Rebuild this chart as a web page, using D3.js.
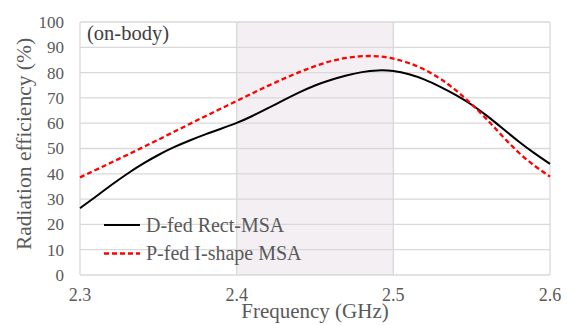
<!DOCTYPE html>
<html lang="en">
<head>
    <meta charset="UTF-8">
    <script src="https://d3js.org/d3.v7.min.js"></script>
    <title>Radiation efficiency</title>
    <style>
        body { margin: 0; background: #fff; }
        svg { display: block; }
    </style>
</head>
<body>
    <svg id="chart" width="567" height="325"></svg>
    <script>
        // frequencies (GHz)
        const freqs = [2.30, 2.31, 2.32, 2.33, 2.34, 2.35, 2.36, 2.37, 2.38, 2.39, 2.40,
                       2.41, 2.42, 2.43, 2.44, 2.45, 2.46, 2.47, 2.48, 2.49, 2.50,
                       2.51, 2.52, 2.53, 2.54, 2.55, 2.56, 2.57, 2.58, 2.59, 2.60];
        // D-fed Rect-MSA
        const rectMsa = [26.4, 30.9, 35.6, 40.0, 44.0, 47.5, 50.6, 53.2, 55.6, 57.8, 60.0,
                         62.8, 65.9, 69.1, 72.2, 75.0, 77.1, 78.9, 80.3, 81.0, 80.8,
                         79.5, 77.4, 74.4, 71.2, 67.4, 62.9, 57.8, 52.7, 48.1, 43.9];
        // P-fed I-shape MSA
        const ishapeMsa = [38.6, 41.5, 44.5, 47.4, 50.4, 53.5, 56.6, 59.7, 62.8, 65.8, 68.8,
                           71.8, 74.8, 77.6, 80.2, 82.6, 84.6, 85.9, 86.6, 86.6, 85.6,
                           83.9, 81.3, 77.7, 73.1, 67.6, 61.4, 54.6, 48.2, 43.1, 38.9];
        const xTicks = [2.3, 2.4, 2.5, 2.6];
        const yTicks = [0, 10, 20, 30, 40, 50, 60, 70, 80, 90, 100];
        const band = [2.4, 2.5];
        const seriesNames = ["D-fed Rect-MSA", "P-fed I-shape MSA"];

        const svg = d3.select("#chart");
        const serif = '"Liberation Serif"';
        const textColor = "#595959";
        const gridColor = "#d9d9d9";

        const x = d3.scaleLinear().domain([2.3, 2.6]).range([80, 550]);
        const y = d3.scaleLinear().domain([0, 100]).range([275, 22]);

        // shaded band
        svg.append("rect")
            .attr("x", x(band[0]))
            .attr("y", y(100))
            .attr("width", x(band[1]) - x(band[0]))
            .attr("height", y(0) - y(100))
            .attr("fill", "#f3eff3");

        // horizontal gridlines
        svg.append("g")
            .selectAll("line")
            .data(yTicks)
            .join("line")
            .attr("x1", x(2.3)).attr("x2", x(2.6))
            .attr("y1", d => y(d)).attr("y2", d => y(d))
            .attr("stroke", gridColor)
            .attr("stroke-width", 1.3);

        // vertical gridlines
        svg.append("g")
            .selectAll("line")
            .data(xTicks)
            .join("line")
            .attr("x1", d => x(d)).attr("x2", d => x(d))
            .attr("y1", y(0)).attr("y2", y(100))
            .attr("stroke", gridColor)
            .attr("stroke-width", 1.3);

        // y tick labels
        svg.append("g")
            .selectAll("text")
            .data(yTicks)
            .join("text")
            .attr("x", 64)
            .attr("y", d => y(d))
            .attr("dy", "0.35em")
            .attr("text-anchor", "end")
            .style("font-family", serif)
            .attr("font-size", 17)
            .attr("fill", textColor)
            .text(d => d);

        // x tick labels
        svg.append("g")
            .selectAll("text")
            .data(xTicks)
            .join("text")
            .attr("x", d => x(d))
            .attr("y", 301)
            .attr("text-anchor", "middle")
            .style("font-family", serif)
            .attr("font-size", 18)
            .attr("fill", textColor)
            .text(d => d.toFixed(1));

        // axis titles
        svg.append("text")
            .attr("x", 315)
            .attr("y", 318)
            .attr("text-anchor", "middle")
            .style("font-family", serif)
            .attr("font-size", 21)
            .attr("fill", textColor)
            .text("Frequency (GHz)");

        svg.append("text")
            .attr("transform", "translate(31,144) rotate(-90)")
            .attr("text-anchor", "middle")
            .style("font-family", serif)
            .attr("font-size", 21.5)
            .attr("fill", textColor)
            .text("Radiation efficiency (%)");

        // annotation
        svg.append("text")
            .attr("x", 87)
            .attr("y", 40)
            .style("font-family", serif)
            .attr("font-size", 20.5)
            .attr("fill", "#404040")
            .text("(on-body)");

        // curves
        const line = d3.line()
            .x((d, i) => x(freqs[i]))
            .y(d => y(d))
            .curve(d3.curveBasis);

        svg.append("path")
            .datum(rectMsa)
            .attr("d", line)
            .attr("fill", "none")
            .attr("stroke", "#000")
            .attr("stroke-width", 2);

        svg.append("path")
            .datum(ishapeMsa)
            .attr("d", line)
            .attr("fill", "none")
            .attr("stroke", "#ff0000")
            .attr("stroke-width", 2.3)
            .attr("stroke-dasharray", "5,3");

        // legend
        const legend = svg.append("g");
        const legendStyles = [
            { stroke: "#000", dash: null, width: 2 },
            { stroke: "#ff0000", dash: "5,3", width: 2.3 }
        ];
        seriesNames.forEach((name, i) => {
            const ly = 225 + i * 28.5;
            legend.append("line")
                .attr("x1", 104).attr("x2", 140)
                .attr("y1", ly).attr("y2", ly)
                .attr("stroke", legendStyles[i].stroke)
                .attr("stroke-width", legendStyles[i].width)
                .attr("stroke-dasharray", legendStyles[i].dash);
            legend.append("text")
                .attr("x", 146)
                .attr("y", ly + 6.5)
                .style("font-family", serif)
                .attr("font-size", 20)
                .attr("fill", textColor)
                .text(name);
        });
    </script>
</body>
</html>
